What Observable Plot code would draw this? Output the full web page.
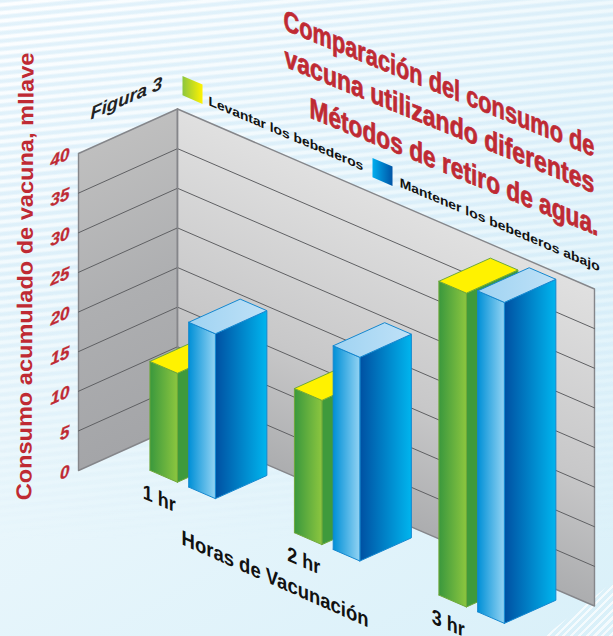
<!DOCTYPE html>
<html><head><meta charset="utf-8">
<script src="https://cdn.jsdelivr.net/npm/d3@7"></script>
<script src="https://cdn.jsdelivr.net/npm/@observablehq/plot@0.6"></script>
<style>
html,body{margin:0;padding:0;width:613px;height:636px;overflow:hidden}
#bg{position:absolute;left:0;top:0;width:613px;height:636px;
background:linear-gradient(150deg,#fdfeff 0%,#ebf7fc 45%,#d9f0f9 100%);}
#stripes{position:absolute;left:0;top:0;width:613px;height:636px;
background:repeating-linear-gradient(174.5deg,rgba(205,232,247,.55) 0,rgba(205,232,247,.55) 2px,rgba(205,232,247,0) 4px,rgba(205,232,247,0) 6px,rgba(205,232,247,.55) 8px);
-webkit-mask-image:linear-gradient(180deg,#000 0%,#000 45%,rgba(0,0,0,0) 85%);mask-image:linear-gradient(180deg,#000 0%,#000 45%,rgba(0,0,0,0) 85%);}
#hatch{position:absolute;left:0;top:0;width:613px;height:636px;
background:repeating-linear-gradient(135deg,rgba(255,255,255,.7) 0,rgba(255,255,255,.7) 2.2px,rgba(255,255,255,0) 2.2px,rgba(255,255,255,0) 5.5px);
clip-path:polygon(613px 582px,613px 636px,545px 636px);}
#chart{position:absolute;left:0;top:0}
svg{display:block;background:none!important}
</style></head><body>
<div id="bg"></div><div id="stripes"></div><div id="hatch"></div><div id="chart"></div>
<script>
const categories = ["1 hr","2 hr","3 hr"];
const levantar = [13.75,18.2,39.6];
const mantener = [20.8,25.7,40.5];
const yTicks = [0,5,10,15,20,25,30,35,40];
const seriesNames = ["Levantar los bebederos","Mantener los bebederos abajo"];
const titleLines = ["Comparación del consumo de","vacuna utilizando diferentes","Métodos de retiro de agua."];
const yTitle = "Consumo acumulado de vacuna, mllave";
const xTitle = "Horas de Vacunación";
const figure = "Figura 3";

// oblique projection: u along categories, v along depth, z value
const P = (u,v,z)=>[177+417*u-99*v, 425.5+180*u+44.5*v-7.925*z];
const zMax = 40;
const faces=[];
let id=0;
function quad(pts,fill,stroke,sw){const k=id++;[...pts,pts[0]].forEach(p=>faces.push({x:p[0],y:p[1],k,fill,stroke,sw}));}
// walls
quad([P(0,1,zMax),P(0,0,zMax),P(0,0,0),P(0,1,0)],"url(#wallL)","#85868a",1.4);
quad([P(0,0,zMax),P(1,0,zMax),P(1,0,0),P(0,0,0)],"url(#wallR)","#85868a",1.4);
const grid=[];
yTicks.slice(1,-1).forEach(t=>{[P(0,1,t),P(0,0,t),P(1,0,t)].forEach(p=>grid.push({x:p[0],y:p[1],t}));});
const step=.3465, vF=.645, vB=.125;
const specs=[
 {vals:levantar,u0:.087,w:.066,left:"url(#gL)",right:"#3f9a3c",top:"#fff200",stroke:"#6fa83a"},
 {vals:mantener,u0:.180,w:.064,left:"url(#bL)",right:"url(#bR)",top:"url(#bT)",stroke:"#1487cf"}];
categories.forEach((c,i)=>specs.forEach(s=>{
  const a=s.u0+step*i,b=a+s.w,h=s.vals[i];
  quad([P(b,vF,0),P(b,vB,0),P(b,vB,h),P(b,vF,h)],s.right,s.stroke,1);
  quad([P(a,vF,0),P(b,vF,0),P(b,vF,h),P(a,vF,h)],s.left,s.stroke,1);
  quad([P(a,vF,h),P(b,vF,h),P(b,vB,h),P(a,vB,h)],s.top,s.stroke,1);
}));
// legend swatches on the plane of the right wall
quad([P(.012,0,44.45),P(.06,0,44.45),P(.06,0,42),P(.012,0,42)],"url(#sw1)","none",0);
quad([P(.4676,0,44.45),P(.5156,0,44.45),P(.5156,0,42),P(.4676,0,42)],"url(#sw2)","none",0);

const defs=()=>{
 const svg=d3.create("svg:g");const d=svg.append("defs");
 const g=(id,x2,y2,stops)=>{const l=d.append("linearGradient").attr("id",id).attr("x1",0).attr("y1",0).attr("x2",x2).attr("y2",y2);
   stops.forEach(([o,c])=>l.append("stop").attr("offset",o).attr("stop-color",c));return l;};
 const top=P(0,0,zMax),bot=P(0,0,0);
 g("wallL",0,bot[1]-top[1],[[0,"#bfbfbf"],[.5,"#aeafb1"],[1,"#a4a5a8"]]).attr("gradientUnits","userSpaceOnUse").attr("gradientTransform",`translate(${top[0]},${top[1]}) skewY(-24)`);
 g("wallR",0,bot[1]-top[1],[[0,"#e0e0e0"],[.6,"#c8c8c9"],[1,"#acadaf"]]).attr("gradientUnits","userSpaceOnUse").attr("gradientTransform",`translate(${top[0]},${top[1]}) skewY(23.3)`);
 g("gL",1,0,[[0,"#3a983d"],[1,"#8cc63f"]]);
 g("bL",1,0,[[0,"#0090d7"],[1,"#93d3f3"]]);
 g("bR",1,0,[[0,"#0050a2"],[1,"#00b5ee"]]);
 g("bT",1,0,[[0,"#9fd3f2"],[1,"#bfe1f7"]]);
 g("sw1",1,0,[[0,"#8cc63f"],[1,"#fff200"]]);
 g("sw2",1,0,[[0,"#00aeef"],[1,"#0054a6"]]);
 return svg.node();
};
// turns a text's rotation into a shear, and stretches each text to its length
const ctx2d=document.createElement("canvas").getContext("2d");
const shear=(deg,lens,font)=>(index,scales,values,dims,ctx,next)=>{
  const g=next(index,scales,values,dims,ctx);
  d3.select(g).selectAll("text").each(function(_,i){
    const t=this.getAttribute("transform")||"";
    const m=t.match(/translate\(([^)]+)\)/), r=t.match(/rotate\(([^)]+)\)/);
    let sx=1;
    if(lens){ctx2d.font=font;sx=lens[i]/ctx2d.measureText(this.textContent).width;}
    const shape=deg!=null?`skewY(${deg})`:(r?r[0]:"");
    this.setAttribute("transform",`translate(${m?m[1]:"0,0"}) ${shape} scale(${sx},1)`);
  });
  return g;
};
const tx=(arr,o)=>Plot.text(arr,{x:d=>d.p[0],y:d=>d.p[1],text:d=>d.t,textAnchor:"start",lineAnchor:"bottom",...o});
const red="#bf2a33";
const sans="'Liberation Sans'";
const faceMark=([k,pts])=>Plot.line(pts,{x:"x",y:"y",fill:pts[0].fill,stroke:pts[0].stroke,strokeWidth:pts[0].sw,curve:"linear",strokeLinejoin:"round"});
const faceGroups=d3.groups(faces,d=>d.k);
const plot=Plot.plot({width:613,height:636,margin:0,
 x:{domain:[0,613],range:[0,613],axis:null},y:{domain:[0,636],range:[0,636],axis:null},
 style:{background:"none"},
 marks:[
  defs,
  ...faceGroups.slice(0,2).map(faceMark),
  Plot.line(grid,{x:"x",y:"y",z:"t",stroke:"#5f6063",strokeWidth:1}),
  Plot.ruleX([0],{x:()=>P(0,0,0)[0],y1:P(0,0,0)[1],y2:P(0,0,zMax)[1],stroke:"#85868a",strokeWidth:1.4}),
  ...faceGroups.slice(2).map(faceMark),
  // title
  tx(titleLines.map((t,i)=>({t,p:[[283,29],[284,66],[309,117]][i]})),{fontFamily:sans,fontWeight:700,fontSize:29,fill:red,stroke:red,strokeWidth:.7,render:shear(22.3,[311,310,289],`700 29px ${sans}`)}),
  // legend text
  tx([{t:seriesNames[0],p:P(.0743,0,42.2)},{t:seriesNames[1],p:P(.533,0,42.3)}],{fontFamily:sans,fontWeight:700,fontSize:13,fill:"#111",render:shear(23,[155,200],`700 13px ${sans}`)}),
  // figure
  tx([{t:figure,p:P(0,.88,43.6)}],{fontFamily:sans,fontWeight:700,fontStyle:"italic",fontSize:18,fill:"#222",render:shear(-23.4,[72],`italic 700 18px ${sans}`)}),
  // y ticks
  Plot.text(yTicks,{x:t=>P(0,1,t)[0]-9,y:t=>P(0,1,t)[1],text:t=>String(t),textAnchor:"end",fontFamily:sans,fontWeight:700,fontStyle:"italic",fontSize:17,fill:red,stroke:red,strokeWidth:.3,render:shear(-23.4)}),
  // y title
  Plot.text([yTitle],{x:()=>32,y:()=>276,text:d=>d,rotate:-89.7,textAnchor:"middle",lineAnchor:"bottom",fontFamily:sans,fontWeight:700,fontSize:21.5,fill:red,render:shear(null,[448],`700 21.5px ${sans}`)}),
  // categories
  tx(categories.map((t,i)=>({t,p:P(.07+step*i,.645,-3.9)})),{fontFamily:sans,fontWeight:700,fontSize:21,fill:"#111",render:shear(23.4,[33,33,33],`700 21px ${sans}`)}),
  tx([{t:xTitle,p:P(.163,.645,-7.6)}],{fontFamily:sans,fontWeight:700,fontSize:21,fill:"#111",render:shear(24,[187],`700 21px ${sans}`)}),
 ]
});
document.getElementById("chart").appendChild(plot);
</script></body></html>
